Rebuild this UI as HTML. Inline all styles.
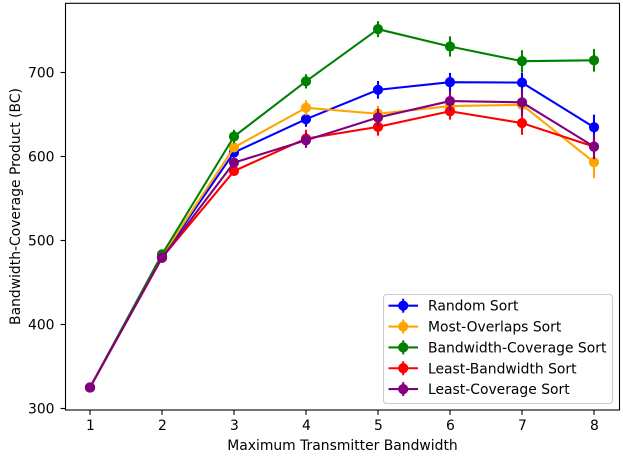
<!DOCTYPE html>
<html>
<head>
<meta charset="utf-8">
<style>
html,body{margin:0;padding:0;background:#fff;}
svg{display:block;}
text{font-family:"DejaVu Sans","Liberation Sans",sans-serif;font-size:13.9px;fill:#000;}
</style>
</head>
<body>
<svg id="chart" xmlns="http://www.w3.org/2000/svg" width="623" height="456" viewBox="0 0 623 456">
  <rect x="65.5" y="3.3" width="554" height="406.7" fill="#fff"/>
  <g id="series-layer"></g>
  <rect x="65.5" y="3.3" width="554" height="406.7" fill="none" stroke="#000" stroke-width="1.1"/>
  <g id="x-ticks"></g>
  <g id="y-ticks"></g>
  <text x="342.5" y="450" text-anchor="middle">Maximum Transmitter Bandwidth</text>
  <text transform="translate(20,206.5) rotate(-90)" text-anchor="middle">Bandwidth-Coverage Product (BC)</text>
  <g id="legend"></g>
</svg>
<script>
const categories = [1, 2, 3, 4, 5, 6, 7, 8];
const xTickLabels = ['1', '2', '3', '4', '5', '6', '7', '8'];
const yTickValues = [300, 400, 500, 600, 700];

const seriesNames = ['Random Sort', 'Most-Overlaps Sort', 'Bandwidth-Coverage Sort', 'Least-Bandwidth Sort', 'Least-Coverage Sort'];
const seriesColors = ['#0000ff', '#ffa500', '#008000', '#ff0000', '#800080'];

const randomValues = [325, 480.5, 604.8, 644.4, 679.4, 688.5, 688, 634.8];
const overlapsValues = [325, 481.5, 610.8, 658, 650.9, 660, 661.5, 593.2];
const coverageBwValues = [325, 483.5, 623.8, 689.5, 751.6, 731, 713.5, 714.5];
const leastBwValues = [325, 479.5, 582.7, 621.3, 635.3, 653.9, 639.8, 611.8];
const leastCovValues = [325, 479.5, 592.7, 619.3, 646.4, 666, 664.5, 611.8];

const randomErrors = [0, 3, 5, 9, 10.5, 11, 12, 15];
const overlapsErrors = [0, 3, 5, 9, 9.5, 8, 7, 19];
const coverageBwErrors = [0, 3, 8, 8.5, 9.5, 12, 13, 13.5];
const leastBwErrors = [0, 3, 5, 10.5, 10.5, 10, 14, 10];
const leastCovErrors = [0, 3, 5, 9, 10.5, 12, 16, 15];

const seriesValues = [randomValues, overlapsValues, coverageBwValues, leastBwValues, leastCovValues];
const seriesErrors = [randomErrors, overlapsErrors, coverageBwErrors, leastBwErrors, leastCovErrors];

const NS = 'http://www.w3.org/2000/svg';
const LINE_W = 2.08;

function xScale(v) { return 90 + (v - 1) * 72; }
function yScale(v) { return 408.5 - (v - 300) * 0.84; }

function make(tag, attrs, parent) {
  const el = document.createElementNS(NS, tag);
  for (const k in attrs) el.setAttribute(k, attrs[k]);
  parent.appendChild(el);
  return el;
}

const xTickGroup = document.getElementById('x-ticks');
categories.forEach(function (c, i) {
  const px = xScale(c);
  const tick = make('line', { x1: px, x2: px, y1: 410, y2: 414.9, stroke: '#000', 'stroke-width': 1.1 }, xTickGroup);
  
  
  const label = make('text', { x: px + 0.4, y: 430, 'text-anchor': 'middle' }, xTickGroup);
  label.textContent = xTickLabels[i];
  
  
});

const yTickGroup = document.getElementById('y-ticks');
yTickValues.forEach(function (v) {
  const py = yScale(v);
  const tick = make('line', { x1: 60.6, x2: 65.5, y1: py, y2: py, stroke: '#000', 'stroke-width': 1.1 }, yTickGroup);
  
  
  const label = make('text', { x: 54.5, y: py + 5, 'text-anchor': 'end' }, yTickGroup);
  label.textContent = String(v);
  
  
});

const seriesLayer = document.getElementById('series-layer');
seriesNames.forEach(function (name, s) {
  const color = seriesColors[s];
  const values = seriesValues[s];
  const errors = seriesErrors[s];
  const slug = name.toLowerCase().replace(/ /g, '-');
  const group = make('g', {}, seriesLayer);
  
  

  const pts = categories.map(function (c, i) { return xScale(c) + ',' + yScale(values[i]); }).join(' ');
  const line = make('polyline', { points: pts, fill: 'none', stroke: color, 'stroke-width': LINE_W, 'stroke-linejoin': 'round' }, group);
  
  

  categories.forEach(function (c, i) {
    const px = xScale(c);
    const bar = make('line', { x1: px, x2: px, y1: yScale(values[i] - errors[i]), y2: yScale(values[i] + errors[i]), stroke: color, 'stroke-width': LINE_W }, group);
    
    
  });
  categories.forEach(function (c, i) {
    const dot = make('circle', { cx: xScale(c), cy: yScale(values[i]), r: 5.1, fill: color }, group);
    
    
  });
});

const legend = document.getElementById('legend');
const legendBox = make('rect', { x: 383.5, y: 294.5, width: 229, height: 109, rx: 3, ry: 3, fill: '#fff', 'fill-opacity': 0.8, stroke: '#cccccc', 'stroke-width': 1.1 }, legend);


seriesNames.forEach(function (name, s) {
  const color = seriesColors[s];
  const rowY = 305.7 + s * 20.85;
  const slug = name.toLowerCase().replace(/ /g, '-');
  const row = make('g', {}, legend);
  
  
  make('line', { x1: 388.5, x2: 418, y1: rowY, y2: rowY, stroke: color, 'stroke-width': LINE_W }, row);
  make('line', { x1: 403.2, x2: 403.2, y1: rowY - 7, y2: rowY + 7, stroke: color, 'stroke-width': LINE_W }, row);
  make('circle', { cx: 403.2, cy: rowY, r: 5.1, fill: color }, row);
  const label = make('text', { x: 428, y: rowY + 5 }, row);
  label.textContent = name;
  
  
});
</script>
</body>
</html>
